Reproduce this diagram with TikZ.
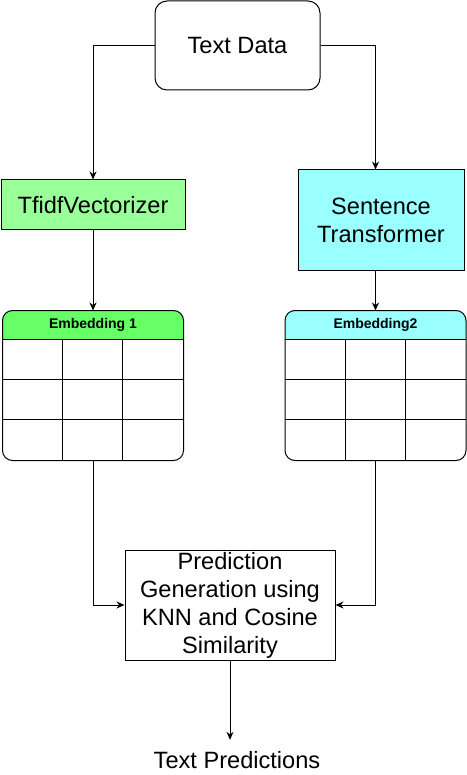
\documentclass[tikz,border=0pt]{standalone}
\usepackage{fontspec}
\setmainfont{Liberation Sans}
\usetikzlibrary{arrows.meta,positioning,calc}
\definecolor{tfidfGREEN}{HTML}{99FF99}
\definecolor{headGREEN}{HTML}{66FF66}
\definecolor{sentCYAN}{HTML}{99FFFF}

\begin{document}
\begin{tikzpicture}[x=1pt, y=-1pt, >={Stealth[length=8pt,width=7pt]}, line width=1pt,
    box/.style={draw, inner sep=0pt, align=center, font=\fontsize{23.6}{28}\selectfont},
    tablebox/.style={inner sep=0pt, minimum width=180pt, minimum height=149pt},
    headtext/.style={inner sep=0pt, font=\fontsize{14}{16}\selectfont\bfseries}]
    \useasboundingbox (0,0) rectangle (466,775);

    % Nodes
    \node[box, rounded corners=12pt, minimum width=165pt, minimum height=89pt] (textdata) at (237.5,45.5) {Text Data};
    \node[box, fill=tfidfGREEN, minimum width=184pt, minimum height=50pt] (tfidf) at (93,205) {TfidfVectorizer};
    \node[box, fill=sentCYAN, minimum width=166pt, minimum height=100pt] (sent) at (381,220) {Sentence\\Transformer};
    \node[tablebox] (emb1) at (93,385.5) {};
    \node[tablebox] (emb2) at (375.5,385.5) {};
    \node[box, minimum width=210pt, minimum height=110pt, text depth=4pt] (pred) at (230,605) {Prediction\\Generation using\\KNN and Cosine\\Similarity};
    \node[font=\fontsize{23.6}{28}\selectfont, inner xsep=0pt, inner ysep=11pt] (out) at (237,760) {Text Predictions};

    % Tables
    \fill[headGREEN, rounded corners=10pt] (emb1.north west) rectangle ($(emb1.north east)+(0,29)$);
    \fill[headGREEN] ($(emb1.north west)+(0,14)$) rectangle ($(emb1.north east)+(0,29)$);
    \fill[sentCYAN, rounded corners=10pt] (emb2.north west) rectangle ($(emb2.north east)+(0,29)$);
    \fill[sentCYAN] ($(emb2.north west)+(0,14)$) rectangle ($(emb2.north east)+(0,29)$);
    \node[headtext] (head1) at ($(emb1.north)+(0,14.5)$) {Embedding 1};
    \node[headtext] (head2) at ($(emb2.north)+(0,14.5)$) {Embedding2};
    \foreach \t in {emb1,emb2} {
        \foreach \dy in {29,69,109}
            \draw ($(\t.north west)+(0,\dy)$) -- ($(\t.north east)+(0,\dy)$);
        \foreach \dx in {60,120}
            \draw ($(\t.north west)+(\dx,29)$) -- ($(\t.south west)+(\dx,0)$);
        \draw[rounded corners=10pt] (\t.north west) rectangle (\t.south east);
    }

    % Arrows
    \draw[->] (textdata.west) -| (tfidf.north);
    \draw[->] (textdata.east) -| (emb2.north |- sent.north);
    \draw[->] (tfidf.south) -- (emb1.north);
    \draw[->] (emb2.north |- sent.south) -- (emb2.north);
    \draw[->] (emb1.south) |- (pred.west);
    \draw[->] (emb2.south) |- (pred.east);
    \draw[->] (pred.south) -- (pred.south |- out.north);
\end{tikzpicture}
\end{document}
